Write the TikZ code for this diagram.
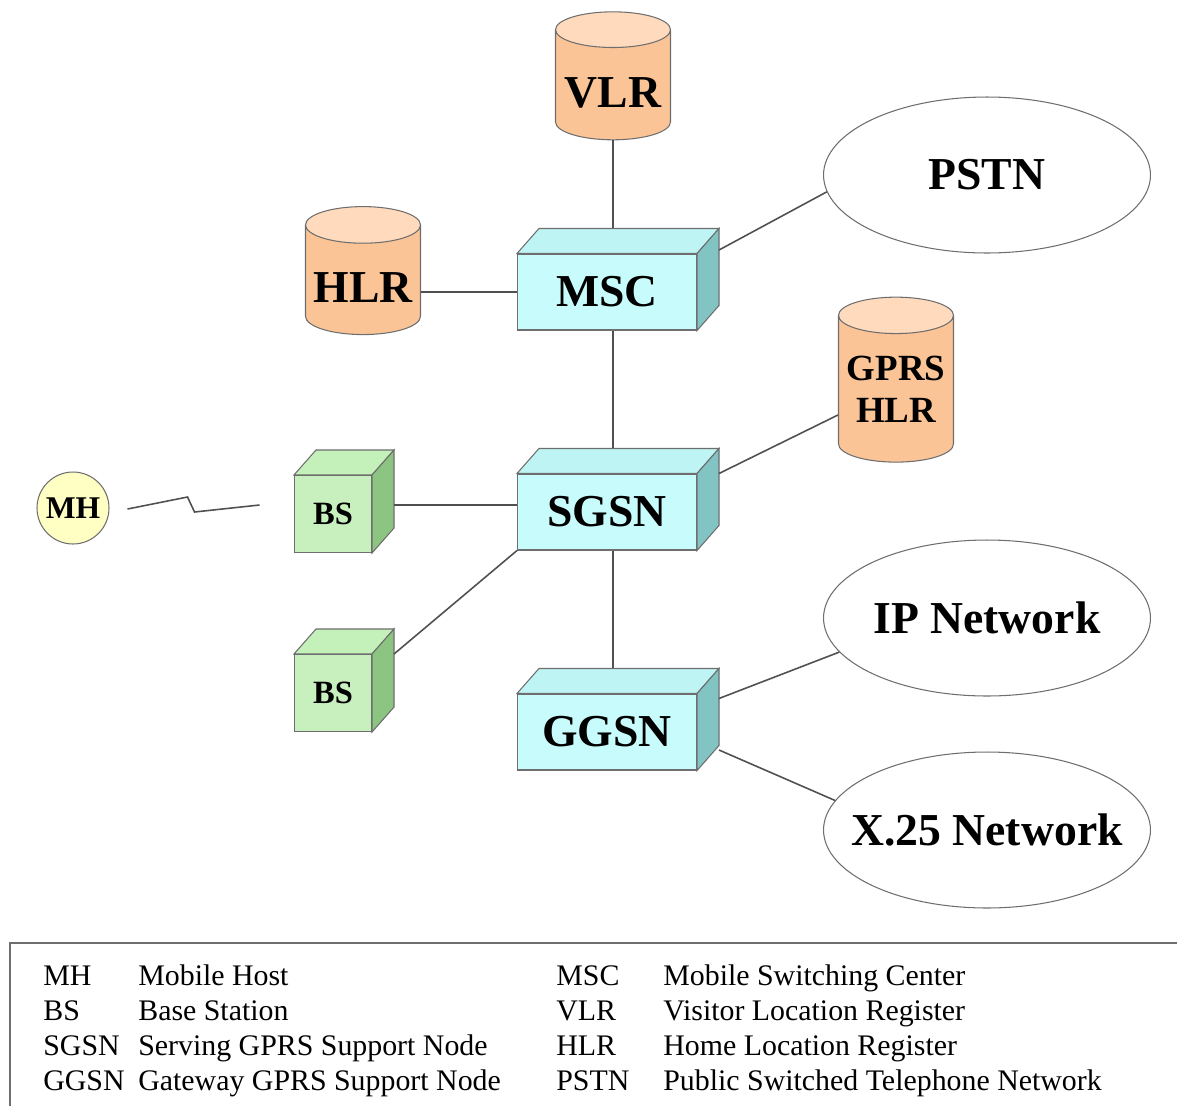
\documentclass[tikz,border=0pt]{standalone}
\usepackage{fontspec}
\setmainfont{Liberation Serif}
\usetikzlibrary{shapes.geometric}
\usetikzlibrary{calc,positioning}

\definecolor{dbfill}{RGB}{250,196,150}
\definecolor{dbtop}{RGB}{255,218,188}
\definecolor{boxfront}{RGB}{200,252,252}
\definecolor{boxtop}{RGB}{190,244,244}
\definecolor{boxside}{RGB}{130,196,196}
\definecolor{bsfront}{RGB}{200,240,190}
\definecolor{bstop}{RGB}{196,240,186}
\definecolor{bsside}{RGB}{140,196,130}
\definecolor{mhfill}{RGB}{255,255,196}
\definecolor{edge}{RGB}{110,110,110}
\definecolor{wire}{RGB}{80,80,80}

\begin{document}
\begin{tikzpicture}[x=0.02cm, y=-0.02cm,
  db/.style={cylinder, shape border rotate=90, aspect=0.37, draw=edge, line width=0.6pt,
    cylinder uses custom fill, cylinder body fill=dbfill, cylinder end fill=dbtop,
    minimum width=2.3cm, inner sep=0pt, font=\fontsize{26}{28}\selectfont\bfseries},
  unit/.style={rectangle, draw=edge, fill=boxfront, line width=0.6pt, minimum width=3.58cm,
    minimum height=1.52cm, inner sep=0pt, font=\fontsize{26}{28}\selectfont\bfseries},
  bs/.style={unit, fill=bsfront, minimum width=1.54cm, minimum height=1.54cm,
    font=\fontsize{18.5}{20}\selectfont\bfseries},
  net/.style={ellipse, draw=edge, line width=0.6pt, minimum width=6.54cm, minimum height=3.12cm,
    inner sep=0pt, font=\fontsize{26}{28}\selectfont\bfseries},
  wire/.style={draw=wire, line width=0.9pt},
  legend/.style={anchor=base west, inner sep=0pt, font=\fontsize{17}{19}\selectfont}]

\useasboundingbox (0,0) rectangle (1177,1106);

% databases
\node[db, minimum height=2.56cm, text height=26pt, text depth=0pt] (vlr) at (613, 85) {VLR};
\node[db, minimum height=2.56cm, text height=26pt, text depth=0pt] (hlr) at (363, 280) {HLR};
\node[db, minimum height=3.3cm, align=center, font=\fontsize{21}{24}\selectfont\bfseries] (ghlr) at (896, 389) {GPRS\\HLR};

% switching units
\node[unit] (msc) at (607, 292) {MSC};
\node[unit] (sgsn) at (607, 512) {SGSN};
\node[unit] (ggsn) at (607, 732) {GGSN};
\node[bs] (bs1) at (333, 514) {BS};
\node[bs] (bs2) at (333, 693) {BS};
\foreach \n/\f in {msc/box, sgsn/box, ggsn/box, bs1/bs, bs2/bs} {
  \draw[draw=edge, line width=0.6pt, fill=\f top] (\n.north west) -- ++(22,-25) -- ($(\n.north east)+(22,-25)$) -- (\n.north east) -- cycle;
  \draw[draw=edge, line width=0.6pt, fill=\f side] (\n.north east) -- ++(22,-25) -- ($(\n.south east)+(22,-25)$) -- (\n.south east) -- cycle;
}

% mobile host
\node[circle, draw=edge, fill=mhfill, line width=0.6pt, minimum size=1.44cm, inner sep=0pt,
  font=\fontsize{18}{20}\selectfont\bfseries] (mh) at (73, 508) {MH};

% outside networks
\node[net] (pstn) at (987, 175) {\makebox[0pt]{PSTN}};
\node[net] (ip) at (987, 618) {\makebox[0pt]{IP Network}};
\node[net] (x25) at (987, 830) {\makebox[0pt]{X.25 Network}};

% links
\draw[wire] (vlr.south) -- ($(msc.north)+(6,-25)$);
\draw[wire] ($(msc.south)+(6,0)$) -- ($(sgsn.north)+(6,-25)$);
\draw[wire] ($(sgsn.south)+(6,0)$) -- ($(ggsn.north)+(6,-25)$);
\draw[wire] (msc.west) -- (msc.west -| hlr.east);
\draw[wire] ($(msc.east)+(22,-42)$) -- (pstn.186);
\draw[wire] ($(sgsn.north east)+(22,0)$) -- ($(ghlr.west)+(0,26)$);
\draw[wire] ($(bs1.east)+(22,-9)$) -- ($(sgsn.west)+(0,-7)$);
\draw[wire] ($(bs2.north east)+(22,0)$) -- (sgsn.south west);
\draw[wire] ($(ggsn.north east)+(22,5)$) -- (ip.193);
\draw[wire] ($(ggsn.east)+(22,18)$) -- (x25.169);
\coordinate (air) at ($(mh.east)+(18,1)$);
\draw[wire] (air) -- ++(60,-12) -- ++(7,15) -- ++(65,-7);

% legend
\draw[draw=edge, line width=0.8pt] (10,1106) -- (10,943) -- (1177,943);
\foreach \ab/\txt [count=\i] in {MH/Mobile Host, BS/Base Station, SGSN/Serving GPRS Support Node, GGSN/Gateway GPRS Support Node} {
  \node[legend] (la\i) at (43, {985+35.3*(\i-1)}) {\ab};
  \node[legend] (lb\i) at (138, {985+35.3*(\i-1)}) {\txt};
}
\foreach \ab/\txt [count=\i] in {MSC/Mobile Switching Center, VLR/Visitor Location Register, HLR/Home Location Register, PSTN/Public Switched Telephone Network} {
  \node[legend] (ra\i) at (556, {985+35.3*(\i-1)}) {\ab};
  \node[legend] (rb\i) at (663, {985+35.3*(\i-1)}) {\txt};
}
\end{tikzpicture}
\end{document}
